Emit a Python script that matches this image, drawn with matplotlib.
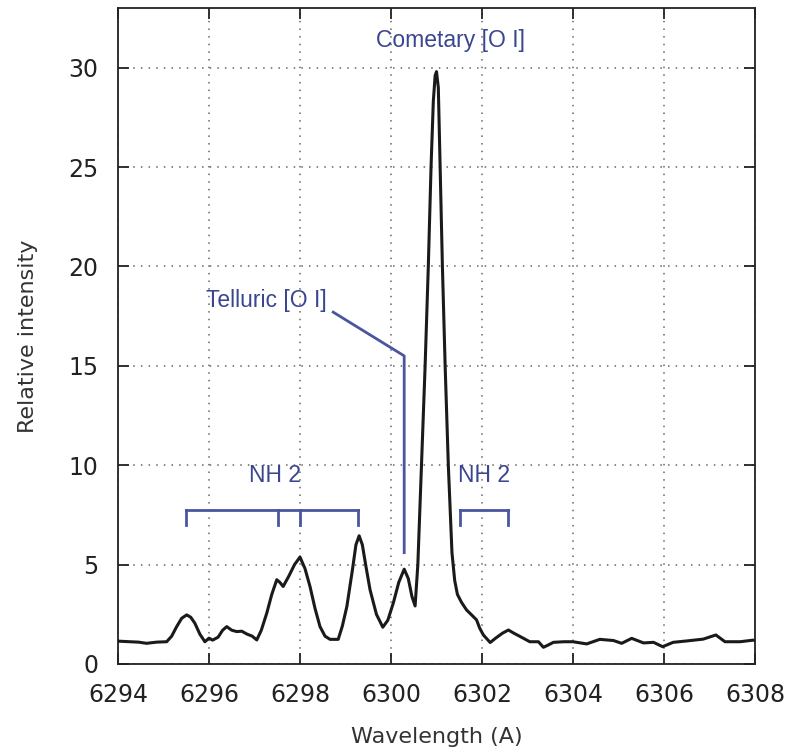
import matplotlib
matplotlib.use("Agg")
import matplotlib.pyplot as plt

wavelength = [6294.00, 6294.26, 6294.45, 6294.63, 6294.85, 6295.07, 6295.18, 6295.29, 6295.40, 6295.51,
              6295.60, 6295.69, 6295.80, 6295.91, 6296.00, 6296.08, 6296.20, 6296.30, 6296.39, 6296.50,
              6296.61, 6296.72, 6296.83, 6296.95, 6297.05, 6297.15, 6297.27, 6297.38, 6297.49, 6297.56,
              6297.63, 6297.75, 6297.88, 6298.00, 6298.11, 6298.22, 6298.33, 6298.44, 6298.55, 6298.66,
              6298.84, 6298.93, 6299.03, 6299.15, 6299.23, 6299.30, 6299.37, 6299.45, 6299.54, 6299.68,
              6299.82, 6299.93, 6300.05, 6300.17, 6300.29, 6300.38, 6300.46, 6300.53, 6300.59, 6300.67,
              6300.75, 6300.82, 6300.88, 6300.93, 6300.97, 6301.00, 6301.04, 6301.08, 6301.13, 6301.19,
              6301.26, 6301.34, 6301.40, 6301.46, 6301.55, 6301.66, 6301.78, 6301.88, 6301.95, 6302.03,
              6302.18, 6302.30, 6302.45, 6302.58, 6302.70, 6302.84, 6303.05, 6303.24, 6303.35, 6303.45,
              6303.57, 6303.80, 6304.00, 6304.30, 6304.59, 6304.89, 6305.07, 6305.29, 6305.55, 6305.77,
              6305.97, 6306.20, 6306.50, 6306.86, 6307.14, 6307.34, 6307.67, 6307.96, 6308.00]
intensity = [1.15, 1.12, 1.10, 1.04, 1.10, 1.12, 1.40, 1.88, 2.30, 2.47,
             2.35, 2.05, 1.50, 1.12, 1.30, 1.20, 1.35, 1.70, 1.88, 1.70,
             1.63, 1.65, 1.51, 1.40, 1.21, 1.70, 2.56, 3.50, 4.24, 4.10,
             3.90, 4.40, 5.00, 5.38, 4.80, 3.90, 2.80, 1.88, 1.40, 1.24,
             1.24, 1.90, 2.89, 4.70, 6.00, 6.45, 6.00, 4.90, 3.73, 2.50,
             1.85, 2.20, 3.06, 4.10, 4.77, 4.30, 3.40, 2.92, 5.00, 10.0,
             15.0, 20.0, 25.0, 28.3, 29.6, 29.8, 29.0, 25.0, 20.0, 15.0,
             10.0, 5.60, 4.20, 3.50, 3.10, 2.72, 2.45, 2.22, 1.80, 1.46,
             1.08, 1.30, 1.55, 1.71, 1.55, 1.38, 1.12, 1.12, 0.84, 0.95,
             1.09, 1.12, 1.12, 1.01, 1.24, 1.18, 1.04, 1.29, 1.06, 1.09,
             0.87, 1.09, 1.16, 1.25, 1.46, 1.12, 1.12, 1.20, 1.18]

x_ticks = [6294, 6296, 6298, 6300, 6302, 6304, 6306, 6308]
y_ticks = [0, 5, 10, 15, 20, 25, 30]

nh2_left_marks = [6295.49, 6297.51, 6298.00, 6299.28]
nh2_right_marks = [6301.52, 6302.57]
telluric_pos = 6300.29

ann_color = "#4a55a0"
text_color = "#3a4690"

fig = plt.figure(figsize=(7.95, 7.56), dpi=100)
ax = fig.add_axes([0.1484, 0.1217, 0.8013, 0.8677])

ax.plot(wavelength, intensity, color="#1a1a1a", lw=2.2, zorder=3, solid_joinstyle="round")

ax.set_xlim(6294, 6308)
ax.set_ylim(0, 33)
ax.set_xticks(x_ticks)
ax.set_yticks(y_ticks)
ax.tick_params(direction="in", length=8, width=1.3, top=True, right=True,
               labelsize=17, colors="#222222")
ax.tick_params(axis="x", pad=14)
ax.tick_params(axis="y", pad=14)
for sp in ax.spines.values():
    sp.set_linewidth(1.3)
    sp.set_color("#222222")
ax.grid(True, linestyle=(0, (1, 4)), color="#666666", lw=1.1)

ax.set_xlabel("Wavelength (A)", fontsize=16, color="#333333", labelpad=14)
ax.set_ylabel("Relative intensity", fontsize=16, color="#333333", labelpad=22)

afont = dict(family="Liberation Sans", fontsize=16.5, color=text_color)

# NH 2 left bracket
top, bot = 7.77, 7.0
ax.plot([nh2_left_marks[0], nh2_left_marks[-1]], [top, top], color=ann_color, lw=2)
for m in nh2_left_marks:
    ax.plot([m, m], [top, bot], color=ann_color, lw=2)
ax.text(6297.45, 8.9, "NH 2", ha="center", va="bottom", **afont)

# NH 2 right bracket
ax.plot([nh2_right_marks[0], nh2_right_marks[-1]], [top, top], color=ann_color, lw=2)
for m in nh2_right_marks:
    ax.plot([m, m], [top, bot], color=ann_color, lw=2)
ax.text(6302.04, 8.9, "NH 2", ha="center", va="bottom", **afont)

# Telluric
ax.plot([telluric_pos, telluric_pos, 6298.73], [5.6, 15.5, 17.7], color=ann_color, lw=2)
ax.text(6297.27, 18.3, "Telluric [O I]", ha="center", va="center", **afont)

# Cometary
ax.text(6301.3, 31.35, "Cometary [O I]", ha="center", va="center", **afont)

fig.savefig("out.png", dpi=100)
